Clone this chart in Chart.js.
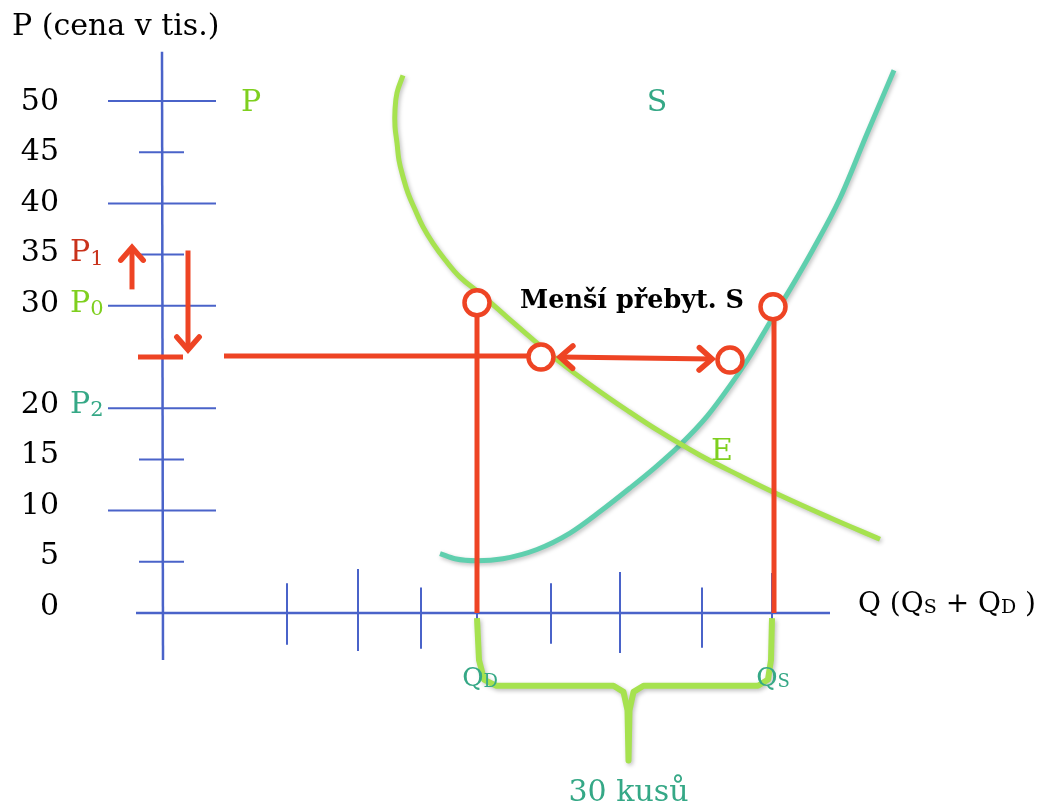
<!DOCTYPE html>
<html>
<head>
<meta charset="utf-8">
<script src="https://cdn.jsdelivr.net/npm/chart.js@4/dist/chart.umd.min.js"></script>
<style>
  html, body { margin: 0; padding: 0; background: #ffffff; }
  #wrap { position: relative; width: 1041px; height: 809px; }
</style>
</head>
<body>
<div id="wrap"><canvas id="c"></canvas></div>
<script>
// ---------------- DATA ----------------
// price axis (thousands)
const priceTicks  = [0, 5, 10, 15, 20, 30, 35, 40, 45, 50];
const priceLabels = ['0', '5', '10', '15', '20', '30', '35', '40', '45', '50'];
// quantity axis tick marks (pieces)
const qtyTicks = [12.4, 19.5, 25.8, 31.4, 38.8, 45.7, 53.9, 60.9];

// demand curve (light green)
const demandQ = [24.0, 23.4, 23.2, 23.2, 23.4, 23.6, 24.0, 24.5, 25.2, 26.0, 27.0, 28.2, 29.7, 31.7, 34.4, 37.0, 39.7, 43.0, 46.4, 49.7, 53.7, 57.7, 61.7, 66.7, 71.7];
const demandP = [52.5, 50.8, 49.1, 47.5, 45.9, 44.2, 42.6, 41.0, 39.4, 37.7, 36.1, 34.5, 32.8, 31.2, 28.9, 26.7, 24.5, 22.1, 19.8, 17.7, 15.4, 13.4, 11.5, 9.3, 7.2];

// supply curve (teal)
const supplyQ = [27.7, 29.2, 31.4, 34.0, 37.4, 40.7, 43.7, 46.7, 49.2, 51.7, 54.4, 56.7, 58.7, 60.7, 62.7, 65.0, 67.7, 70.4, 73.1];
const supplyP = [5.8, 5.3, 5.1, 5.3, 6.2, 7.8, 9.9, 12.2, 14.2, 16.4, 19.2, 22.2, 25.1, 28.4, 31.6, 35.5, 40.5, 46.8, 53.0];

// market points
const P0 = 30, P1 = 35, P2 = 20;
const Pnew = 25;            // new (lower) price line
const QD = 31.4, QS = 61.1; // quantity demanded / supplied at P0
const QDnew = 37.8, QSnew = 56.7; // quantities at the new price
const surplus = 30;         // "30 kusů"

// ---------------- STYLE ----------------
const BLUE = '#4a63c9', RED = '#ee4424', DGREEN = '#a6e24f', TEAL = '#5fcfae';
const TXT_TEAL = '#35a886', TXT_GREEN = '#7ecf1e', TXT_RED = '#c9321b';
const FONT = '"DejaVu Serif", "Liberation Serif", serif';
const longTick = [-5.5, 5.3], shortTick = [-2.4, 2.1];
const qTickReach = [[2.9,-3.1],[4.3,-3.7],[2.5,-3.5],[2.5,-4.1],[2.9,-3.0],[4.0,-3.9],[2.5,-3.4],[3.9,-3.8]];
const labelShift = p => 0.6 - p * 0.014; // hand-placed labels sit a little off their ticks

// ---------------- datasets ----------------
const ds = [];
function seg(pts, color, width, order, extra) {
  ds.push(Object.assign({
    data: pts, showLine: true, borderColor: color, borderWidth: width,
    pointRadius: 0, fill: false, tension: 0, order: order,
    borderCapStyle: 'butt'
  }, extra || {}));
}
// circles (top)
ds.push({
  data: [{x: QD, y: P0 + 0.3}, {x: QS - 0.1, y: P0 - 0.1}, {x: QDnew, y: Pnew}, {x: QSnew, y: Pnew - 0.3}],
  showLine: false, pointRadius: 12.5, pointBorderWidth: 4.5,
  pointBorderColor: RED, pointBackgroundColor: '#ffffff', order: 0
});
// red elements
seg([{x: QD, y: 0}, {x: QD, y: P0}], RED, 5, 1);
seg([{x: QS, y: 0}, {x: QS, y: P0}], RED, 5, 1);
seg([{x: 6.1, y: Pnew + 0.1}, {x: QDnew, y: Pnew + 0.1}], RED, 5, 1);
seg([{x: -2.5, y: Pnew}, {x: 2.0, y: Pnew}], RED, 5, 1);
seg([{x: QDnew + 1.9, y: Pnew}, {x: QSnew - 1.8, y: Pnew - 0.2}], RED, 5, 1, {arrow: 'both'});
seg([{x: -3.1, y: 31.6}, {x: -3.1, y: P1 + 0.7}], RED, 5, 1, {arrow: 'end'});
seg([{x: 2.5, y: P1 + 0.4}, {x: 2.5, y: Pnew + 0.7}], RED, 5, 1, {arrow: 'end'});
// brace "30 kusů"
const mid = (QD + QS) / 2 + 0.3;
seg([
  {x: QD, y: -0.5}, {x: QD + 0.2, y: -4.6}, {x: QD + 0.7, y: -6.5}, {x: QD + 1.9, y: -7.1},
  {x: mid - 1.5, y: -7.1}, {x: mid - 0.5, y: -7.7}, {x: mid - 0.1, y: -9.5}, {x: mid, y: -14.4},
  {x: mid + 0.1, y: -9.5}, {x: mid + 0.5, y: -7.7}, {x: mid + 1.5, y: -7.1},
  {x: QS - 1.6, y: -7.1}, {x: QS - 0.6, y: -6.5}, {x: QS - 0.3, y: -4.6}, {x: QS - 0.2, y: -0.5}
], DGREEN, 6, 2, {borderJoinStyle: 'round', shadow: true});
// curves
seg(demandQ.map((q, i) => ({x: q, y: demandP[i]})), DGREEN, 5, 3, {tension: 0.4, shadow: true});
seg(supplyQ.map((q, i) => ({x: q, y: supplyP[i]})), TEAL, 5, 3, {cubicInterpolationMode: 'monotone', shadow: true});
// axes (blue)
seg([{x: -2.7, y: 0}, {x: 66.7, y: 0}], BLUE, 2.5, 4);
seg([{x: -0.1, y: 54.8}, {x: 0.0, y: -4.6}], BLUE, 2.5, 4);
priceTicks.forEach(p => {
  if (p === 0) return;
  const r = (p % 10 === 0) ? longTick : shortTick;
  seg([{x: r[0], y: p}, {x: r[1], y: p}], BLUE, 2, 4);
});
qtyTicks.forEach((q, i) => {
  seg([{x: q, y: qTickReach[i][0]}, {x: q, y: qTickReach[i][1]}], BLUE, 2, 4);
});

// ---------------- text labels ----------------
const R = (text, size, color, opt) => Object.assign({text, size, color: color || '#000'}, opt || {});
const labels = [
  {x: -15.1, y: 57.2, align: 'left', runs: [R('P (cena v tis.)', 30)]},
  ...priceTicks.map((p, i) => ({x: -10.4, y: p + labelShift(p), align: 'right', runs: [R(priceLabels[i], 30)]})),
  {x: -9.3, y: P1 + labelShift(P1), align: 'left', runs: [R('P', 30, TXT_RED), R('1', 21, TXT_RED, {dy: 6})]},
  {x: -9.3, y: P0 + labelShift(P0), align: 'left', runs: [R('P', 30, TXT_GREEN), R('0', 21, TXT_GREEN, {dy: 6})]},
  {x: -9.3, y: P2 + labelShift(P2), align: 'left', runs: [R('P', 30, TXT_TEAL), R('2', 21, TXT_TEAL, {dy: 6})]},
  {x: 8.8, y: 49.8, align: 'center', runs: [R('P', 30, TXT_GREEN)]},
  {x: 49.4, y: 49.8, align: 'center', runs: [R('S', 30, TXT_TEAL)]},
  {x: 55.9, y: 15.7, align: 'center', runs: [R('E', 30, TXT_GREEN)]},
  {x: 46.9, y: 30.4, align: 'center', runs: [R('Menší přebyt. S', 25.5, '#000', {bold: true})]},
  {x: 69.5, y: 0.8, align: 'left', runs: [R('Q (Q', 28), R('S', 19, '#000', {dy: 3}), R(' + Q', 28), R('D', 19, '#000', {dy: 3}), R(' )', 28)]},
  {x: 31.7, y: -6.5, align: 'center', runs: [R('Q', 26, TXT_TEAL), R('D', 18, TXT_TEAL, {dy: 3})]},
  {x: 61.0, y: -6.5, align: 'center', runs: [R('Q', 26, TXT_TEAL), R('S', 18, TXT_TEAL, {dy: 3})]},
  {x: mid, y: -17.6, align: 'center', runs: [R(surplus + ' kusů', 30, TXT_TEAL)]}
];

// ---------------- plugins ----------------
const shadowPlugin = {
  id: 'shadow',
  beforeDatasetDraw(chart, args) {
    const d = chart.data.datasets[args.index];
    if (d.shadow) {
      chart.ctx.save();
      chart.ctx.shadowColor = 'rgba(0,0,0,0.25)';
      chart.ctx.shadowBlur = 4;
      chart.ctx.shadowOffsetX = 1.5;
      chart.ctx.shadowOffsetY = 2;
    }
  },
  afterDatasetDraw(chart, args) {
    const d = chart.data.datasets[args.index];
    if (d.shadow) chart.ctx.restore();
  }
};
const arrowPlugin = {
  id: 'arrows',
  afterDatasetDraw(chart, args) {
    const d = chart.data.datasets[args.index];
    if (!d.arrow) return;
    const xs = chart.scales.x, ys = chart.scales.y, ctx = chart.ctx;
    const pts = d.data.map(p => ({x: xs.getPixelForValue(p.x), y: ys.getPixelForValue(p.y)}));
    const head = (tip, from) => {
      const a = Math.atan2(tip.y - from.y, tip.x - from.x);
      const L = 17, W = 0.72;
      ctx.beginPath();
      ctx.moveTo(tip.x - L * Math.cos(a - W), tip.y - L * Math.sin(a - W));
      ctx.lineTo(tip.x, tip.y);
      ctx.lineTo(tip.x - L * Math.cos(a + W), tip.y - L * Math.sin(a + W));
      ctx.stroke();
    };
    ctx.save();
    ctx.strokeStyle = d.borderColor; ctx.lineWidth = d.borderWidth + 0.5;
    ctx.lineCap = 'round'; ctx.lineJoin = 'miter';
    head(pts[pts.length - 1], pts[pts.length - 2]);
    if (d.arrow === 'both') head(pts[0], pts[1]);
    ctx.restore();
  }
};
const textPlugin = {
  id: 'texts',
  afterDraw(chart) {
    const xs = chart.scales.x, ys = chart.scales.y, ctx = chart.ctx;
    ctx.save();
    ctx.textBaseline = 'middle';
    labels.forEach(l => {
      const fontOf = r => (r.bold ? 'bold ' : '') + r.size + 'px ' + FONT;
      let total = 0;
      l.runs.forEach(r => { ctx.font = fontOf(r); r.w = ctx.measureText(r.text).width; total += r.w; });
      let x = xs.getPixelForValue(l.x);
      const y = ys.getPixelForValue(l.y);
      if (l.align === 'center') x -= total / 2;
      else if (l.align === 'right') x -= total;
      ctx.textAlign = 'left';
      l.runs.forEach(r => {
        ctx.font = fontOf(r); ctx.fillStyle = r.color;
        ctx.fillText(r.text, x, y + (r.dy || 0));
        x += r.w;
      });
    });
    ctx.restore();
  }
};

new Chart(document.getElementById('c'), {
  type: 'scatter',
  data: { datasets: ds },
  options: {
    responsive: true, maintainAspectRatio: false, animation: false,
    layout: { padding: 0, autoPadding: false },
    plugins: { legend: { display: false }, tooltip: { enabled: false } },
    scales: {
      x: { type: 'linear', min: -16.3, max: 87.8, display: false },
      y: { type: 'linear', min: -19.14, max: 59.86, display: false }
    }
  },
  plugins: [shadowPlugin, arrowPlugin, textPlugin]
});
</script>
</body>
</html>
